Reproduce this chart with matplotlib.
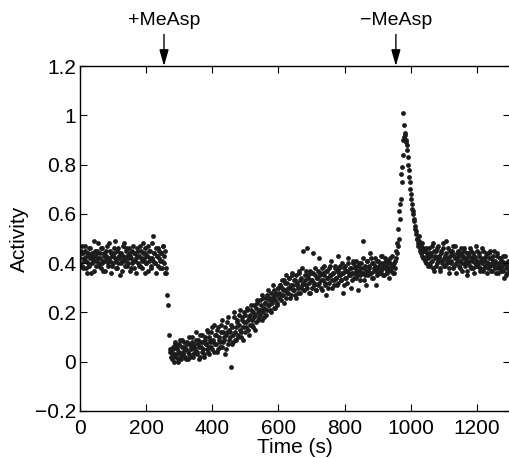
import numpy as np
import matplotlib
matplotlib.use('Agg')
import matplotlib.pyplot as plt
from matplotlib.ticker import FuncFormatter

# activity values in hundredths; series 1 sampled every 3 s from t=0,
# series 2 sampled every 3 s from t=1.5
pre = [42, 45, 39, 44, 41, 47, 38, 43, 40, 46, 42, 36, 44, 41, 49, 43, 39, 45, 42, 40,
       44, 38, 46, 41, 43, 37, 45, 42, 40, 48, 41, 44, 39, 43, 46, 42, 38, 45, 40, 43,
       35, 44, 41, 47, 42, 39, 46, 43, 40, 44, 37, 42, 45, 41, 38, 44, 42, 46, 40, 43,
       39, 45, 41, 48, 42, 36, 44, 40, 43, 47, 41, 45, 38, 42, 51, 44, 40, 46, 43, 39,
       45, 41, 44, 38, 47, 43, 36]
drop = [36, 27, 23, 11, 5]
low = [4, 1, 6, 3, 8, 2, 5, 0, 7, 3, 1, 9, 4, 6, 2, 5, 8, 1, 3, 7,
       5, 10, 2, 6, 4, 9, 3, 7, 1, 11, 6, 4, 8, 2, 10, 7, 5, 12, 3, 9,
       6, 14, 8, 4, 11, 7, 13, 5, 10, 8, 15, 6, 12, 9, 3, 11, 16, 7, 13]
rise = [10, -2, 14, 8, 18, 12, 9, 16, 11, 19, 13, 10, 17, 14, 20, 12, 16, 22, 13, 18,
        15, 21, 17, 14, 23, 19, 16, 24, 20, 18, 25, 21, 17, 26, 22, 24, 19, 27, 23, 25,
        21, 28, 24, 26, 22, 29, 25, 27, 23, 30]
slow = [28, 31, 25, 30, 27, 33, 29, 26, 32, 28, 34, 30, 27, 35, 31, 29, 33, 26, 32, 30,
        36, 28, 34, 31, 45, 29, 33, 37, 30, 35, 32, 28, 36, 33, 44, 31, 35, 29, 34, 37,
        32, 36, 30, 38, 33, 35, 31, 27, 37, 34, 32, 39, 35, 30, 36, 33, 38, 34, 31, 37,
        35, 39, 33, 36, 28, 38, 34, 37, 32, 40, 36, 35, 38, 33, 41, 36, 39, 34, 37, 29,
        40, 35, 38, 36, 49, 33, 39, 37, 41, 35, 38, 36, 42, 34, 40, 37, 39, 31, 41, 38,
        36, 40, 37, 43, 35, 39, 38, 41, 36, 40, 38, 42, 37, 39, 36, 40, 38]
peak = [45, 48, 54, 61, 64, 76, 79, 90, 101]
decay = [96, 92, 89, 86, 80, 75, 70, 66, 62, 60, 57, 54, 52, 50, 47, 49, 45, 47,
         43, 46, 42, 45, 40, 44]
post = [42, 46, 39, 44, 41, 48, 37, 43, 45, 40, 47, 42, 38, 44, 41, 46, 39, 43, 49, 40,
        42, 36, 45, 41, 44, 38, 43, 47, 40, 42, 45, 39, 41, 44, 37, 43, 46, 40, 42, 35,
        44, 41, 39, 45, 42, 38, 43, 40, 47, 41, 39, 44, 37, 42, 40, 45, 38, 41, 43, 36,
        40, 44, 39, 42, 37, 41, 45, 38, 40, 43, 36, 39, 42, 38, 41, 37, 40, 43, 35, 39,
        38, 41, 37]

pre2 = [40, 44, 47, 38, 42, 45, 41, 36, 44, 39, 46, 43, 40, 42, 37, 45, 41, 44, 48, 39,
        42, 46, 40, 37, 44, 41, 43, 47, 39, 42, 45, 36, 43, 40, 44, 49, 41, 38, 46, 42,
        44, 40, 37, 43, 48, 41, 45, 39, 42, 46, 43, 38, 40, 47, 44, 41, 36, 43, 45, 39,
        47, 42, 38, 44, 41, 46, 40, 43, 37, 45, 42, 39, 48, 41, 44, 40, 36, 43, 46, 42,
        38, 44, 41, 47, 40, 45, 38]
drop2 = [np.nan, np.nan, np.nan, 4, 2]
low2 = [2, 5, 0, 7, 3, 6, 1, 4, 9, 2, 6, 3, 8, 5, 1, 7, 4, 10, 2, 6,
        8, 3, 7, 5, 12, 4, 9, 6, 2, 8, 11, 5, 3, 9, 7, 13, 4, 10, 6, 8,
        12, 5, 9, 15, 7, 11, 4, 14, 9, 6, 12, 17, 8, 10, 14, 5, 12, 18, 9]
rise2 = [12, 15, 7, 11, 20, 9, 14, 17, 10, 15, 21, 12, 18, 9, 16, 19, 14, 21, 17, 11,
         19, 23, 15, 20, 18, 13, 22, 25, 17, 21, 19, 23, 27, 20, 18, 24, 26, 21, 29, 23,
         26, 20, 25, 31, 27, 22, 28, 24, 30, 26]
slow2 = [31, 27, 33, 29, 24, 32, 35, 28, 30, 34, 26, 31, 36, 29, 33, 27, 35, 31, 28, 37,
         33, 30, 38, 32, 29, 35, 31, 46, 34, 28, 37, 33, 30, 36, 32, 38, 29, 34, 31, 42,
         35, 33, 29, 36, 39, 32, 37, 34, 30, 38, 35, 41, 33, 36, 31, 39, 34, 37, 43, 32,
         38, 35, 33, 40, 36, 31, 39, 34, 37, 42, 35, 38, 30, 36, 40, 34, 38, 41, 35, 39,
         37, 33, 40, 36, 42, 38, 35, 31, 41, 37, 39, 44, 36, 40, 34, 38, 42, 37, 35, 41,
         39, 36, 43, 38, 40, 35, 42, 39, 37, 41, 34, 40, 38, 43, 39, 36, 41]
peak2 = [42, 44, 47, 50, 58, 66, 73, 84, 91]
decay2 = [93, 90, 88, 83, 78, 73, 68, 64, 61, 58, 55, 53, 50, 48, 51, 46, 44, 48,
          42, 45, 41, 46, 43, 39]
post2 = [44, 40, 43, 47, 38, 45, 42, 39, 46, 41, 43, 37, 45, 40, 48, 42, 39, 44, 41, 46,
         38, 43, 40, 45, 47, 39, 42, 36, 44, 41, 43, 38, 46, 40, 42, 45, 39, 41, 37, 44,
         40, 43, 46, 38, 41, 44, 36, 42, 39, 45, 40, 43, 38, 41, 46, 37, 42, 39, 44, 40,
         38, 42, 45, 37, 40, 43, 39, 41, 36, 44, 38, 40, 42, 37, 39, 43, 34, 40, 38, 36,
         41, 39, 37]

activity1 = np.array(pre + drop + low + rise + slow + peak + decay + post) / 100.0
activity2 = np.array(pre2 + drop2 + low2 + rise2 + slow2 + peak2 + decay2 + post2) / 100.0
time1 = np.arange(len(activity1)) * 3.0
time2 = np.arange(len(activity2)) * 3.0 + 1.5

events = [(254, '+MeAsp'), (955, '\u2212MeAsp')]

plt.rcParams['font.family'] = ['Liberation Sans', 'DejaVu Sans']
plt.rcParams['font.size'] = 15

fig = plt.figure(figsize=(5.09, 4.58), dpi=100)
ax = fig.add_axes([80 / 509, 47 / 458, 430 / 509, 345 / 458])
ax.scatter(time1, activity1, s=12, color='#1c1c1c', linewidths=0)
ax.scatter(time2, activity2, s=12, color='#1c1c1c', linewidths=0)

ax.set_xlim(0, 1300)
ax.set_ylim(-0.2, 1.2)
ax.set_xticks(np.arange(0, 1300, 200))
ax.set_yticks(np.arange(-0.2, 1.21, 0.2))
ax.yaxis.set_major_formatter(FuncFormatter(lambda v, p: ('%g' % round(v, 1)).replace('-', '\u2212')))
ax.tick_params(direction='in', length=5, top=True, right=True, width=0.8)
ax.tick_params(axis='x', pad=6)
ax.tick_params(axis='y', pad=3)
for sp in ax.spines.values():
    sp.set_linewidth(1)

ax.set_xlabel('Time (s)', labelpad=0)
ax.set_ylabel('Activity', labelpad=4)

for t, label in events:
    ax.annotate(label, xy=(t, 1.2), xytext=(t, 1.385), ha='center', va='center',
                fontsize=14, annotation_clip=False,
                arrowprops=dict(arrowstyle='-|>,head_length=0.7,head_width=0.2',
                                color='black', lw=1, shrinkA=2, shrinkB=0))

fig.savefig('out.png', dpi=100)
